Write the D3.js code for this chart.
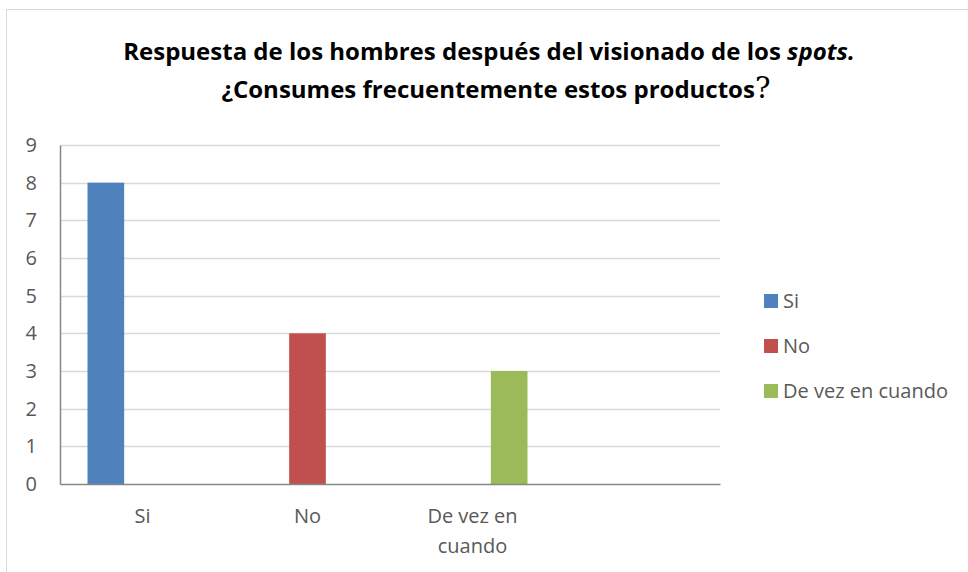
<!DOCTYPE html>
<html>
<head>
<meta charset="utf-8">
<script src="https://cdn.jsdelivr.net/npm/d3@7"></script>
<style>
  html, body { margin: 0; padding: 0; background: #fff; }
  svg { display: block; }
</style>
</head>
<body>
<svg id="chart" width="968" height="572"></svg>
<script>
// Categories on the x axis (the last slot is an empty category)
const categories = ["Si", "No", "De vez en cuando", ""];
// Series names, one per answer
const seriesNames = ["Si", "No", "De vez en cuando"];
// Values per series, aligned with categories
const valuesSi = [8, null, null, null];
const valuesNo = [null, 4, null, null];
const valuesDeVez = [null, null, 3, null];
const seriesValues = [valuesSi, valuesNo, valuesDeVez];
const seriesColors = ["#4f81bd", "#c0504d", "#9bbb59"];
const yTicks = [0, 1, 2, 3, 4, 5, 6, 7, 8, 9];

const svg = d3.select("#chart");
const font = "'Open Sans', 'Noto Sans', sans-serif";

// Outer chart frame
svg.append("path")
  .attr("d", "M6.5,572 L6.5,9.5 L968,9.5")
  .attr("fill", "none")
  .attr("stroke", "#d9d9d9")
  .attr("stroke-width", 1);

// Title
const title = svg.append("text")
  .attr("text-anchor", "middle")
  .attr("font-family", font)
  .attr("font-weight", "bold")
  .attr("font-size", 24)
  .attr("fill", "#000");
const l1 = title.append("tspan").attr("x", 489).attr("y", 60);
l1.append("tspan").text("Respuesta de los hombres después del visionado de los ");
l1.append("tspan").attr("font-style", "italic").text("spots.");
const l2 = title.append("tspan").attr("x", 496).attr("y", 98);
l2.append("tspan").text("¿Consumes frecuentemente estos productos");
l2.append("tspan").attr("font-weight", "normal").attr("font-size", 29)
  .attr("font-family", "'DejaVu Serif', serif").text("?");

// Plot area
const plot = { left: 60, right: 720, top: 145, bottom: 484 };

const x0 = d3.scaleBand()
  .domain(categories)
  .range([plot.left, plot.right])
  .paddingInner(0).paddingOuter(0);

const x1 = d3.scaleBand()
  .domain(seriesNames)
  .range([0, x0.bandwidth()])
  .paddingInner(0).paddingOuter(0.75);

const y = d3.scaleLinear().domain([0, 9]).range([plot.bottom, plot.top]);

// Gridlines
svg.append("g").selectAll("line")
  .data(yTicks.filter(d => d > 0))
  .join("line")
  .attr("x1", plot.left).attr("x2", plot.right)
  .attr("y1", d => Math.round(y(d)) + 0.5).attr("y2", d => Math.round(y(d)) + 0.5)
  .attr("stroke", "#d9d9d9").attr("stroke-width", 1.5);

// Bars
seriesNames.forEach((s, si) => {
  const data = categories.map((c, ci) => ({ c, v: seriesValues[si][ci] }))
    .filter(d => d.v != null);
  svg.append("g").selectAll("rect")
    .data(data)
    .join("rect")
    .attr("x", d => x0(d.c) + x1(s))
    .attr("width", x1.bandwidth())
    .attr("y", d => y(d.v))
    .attr("height", d => y(0) - y(d.v))
    .attr("fill", seriesColors[si]);
});

// Y axis
const yAxis = svg.append("g")
  .attr("transform", `translate(${plot.left},0)`)
  .call(d3.axisLeft(y).tickValues(yTicks).tickSize(0).tickPadding(23));
yAxis.select(".domain").attr("stroke", "#868686").attr("stroke-width", 1.5);
yAxis.selectAll("text")
  .attr("font-family", font).attr("font-size", 20).attr("fill", "#595959");

// X axis
const xAxis = svg.append("g")
  .attr("transform", `translate(0,${plot.bottom})`)
  .call(d3.axisBottom(x0).tickSize(0).tickPadding(0));
xAxis.select(".domain").attr("stroke", "#868686").attr("stroke-width", 1.5);
xAxis.selectAll("text").remove();
const wraps = { "De vez en cuando": ["De vez en", "cuando"] };
xAxis.selectAll(".tick").each(function(d) {
  const lines = wraps[d] || [d];
  const t = d3.select(this).append("text")
    .attr("text-anchor", "middle")
    .attr("font-family", font).attr("font-size", 20).attr("fill", "#595959");
  lines.forEach((ln, i) => {
    t.append("tspan").attr("x", 0).attr("y", 39 + i * 30).text(ln);
  });
});

// Legend
const legend = svg.append("g");
const legendY = d3.scalePoint().domain(seriesNames).range([301, 391]);
seriesNames.forEach((s, i) => {
  const g = legend.append("g").attr("transform", `translate(764,${legendY(s)})`);
  g.append("rect").attr("x", 0).attr("y", -7).attr("width", 14).attr("height", 14)
    .attr("fill", seriesColors[i]);
  g.append("text").attr("x", 19).attr("y", 0).attr("dy", "0.35em")
    .attr("font-family", font).attr("font-size", 20).attr("fill", "#595959")
    .text(s);
});
</script>
</body>
</html>
